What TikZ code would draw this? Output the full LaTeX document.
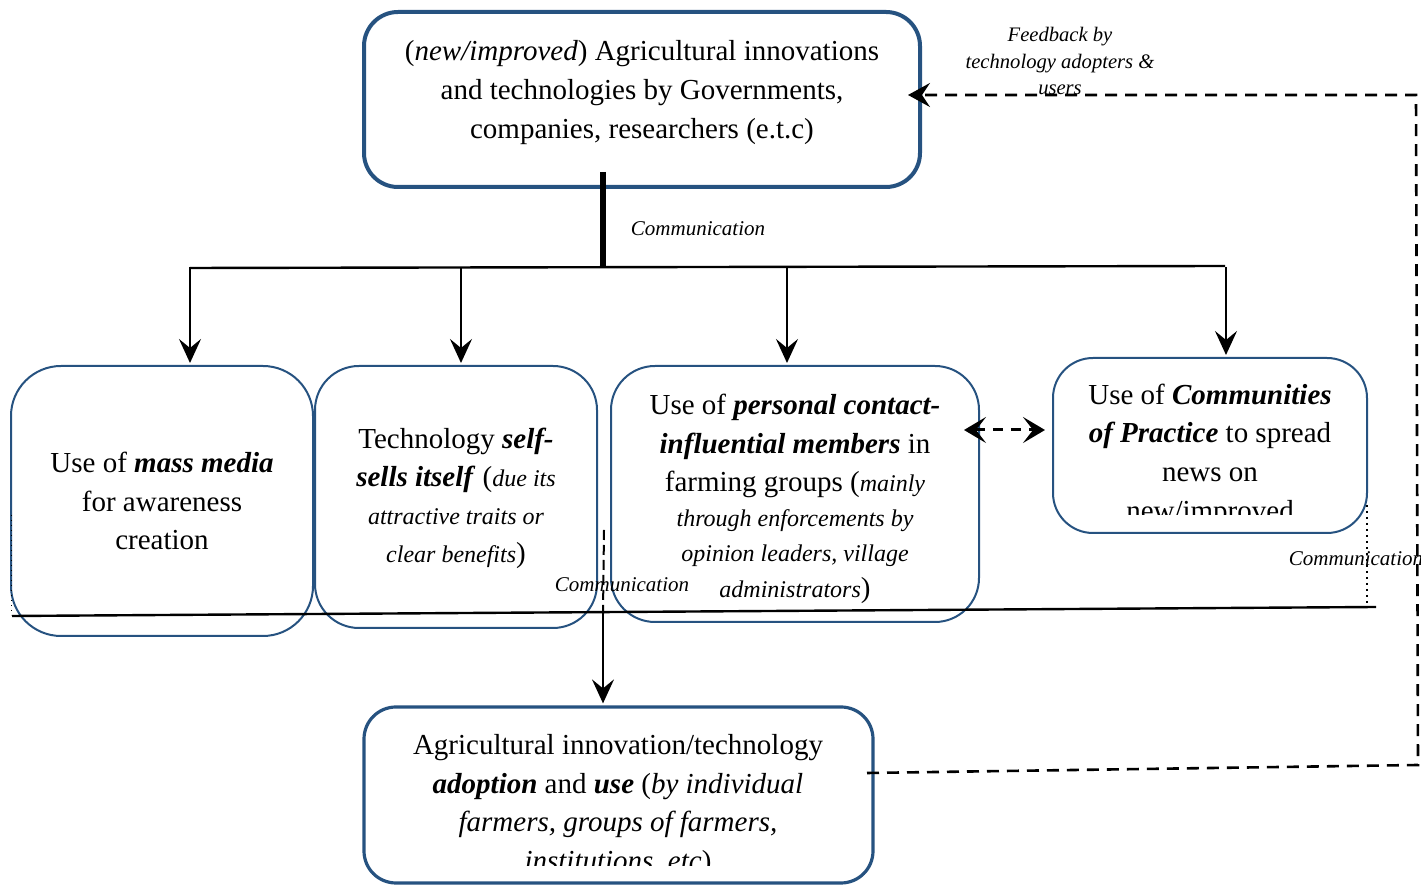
\documentclass[tikz,border=0pt]{standalone}
\usepackage{fontspec}
\setmainfont{Liberation Serif}
\usetikzlibrary{arrows.meta}
\definecolor{boxblue}{RGB}{38,82,128}
\newcommand{\smallit}[1]{{\fontsize{12}{17}\selectfont\itshape #1}}
\newcommand{\bfit}[1]{\textbf{\textit{#1}}}
\tikzset{
  blue box/.style={draw=boxblue, line width=#1, rounded corners=22pt, inner sep=0pt},
  main text/.style={align=center, font=\fontsize{14.5}{19.3}\selectfont},
  comm/.style={font=\fontsize{10.5}{13}\selectfont\itshape}
}

\begin{document}
\begin{tikzpicture}[x=0.5pt, y=-0.5pt,
  arrow down/.style={line width=1pt, shorten >=1pt,
    -{Stealth[length=12pt,width=11pt,inset=4.5pt]}},
  feedback/.style={line width=1.3pt, dash pattern=on 6pt off 4pt}
]
\useasboundingbox (0,0) rectangle (1421,886);

% the boxes
\node[blue box=2pt, rounded corners=17pt, minimum width=278pt, minimum height=87.5pt]
      (source) at (642,99.5) {};
\node[main text] (sourcetext) at (642,92.5)
      {(\textit{new/improved}) Agricultural innovations\\
       and technologies by Governments,\\
       companies, researchers (e.t.c)};

\node[blue box=1pt, rounded corners=25pt, minimum width=151pt, minimum height=135pt, main text]
      (media) at (162,501) {Use of \bfit{mass media}\\ for awareness\\ creation};
\node[blue box=1pt, minimum width=141pt, minimum height=131pt]
      (selfsell) at (456,497) {};
\node[main text] (selfselltext) at (456,498)
      {Technology \bfit{self-}\\
       \bfit{sells itself} (\smallit{due its}\\[-0.5pt]
       \smallit{attractive traits or}\\[-0.5pt]
       \smallit{clear benefits})};
\node[blue box=1pt, minimum width=184pt, minimum height=128pt]
      (personal) at (795,494) {};
\node[main text] (personaltext) at (795,499)
      {Use of \bfit{personal contact-}\\
       \bfit{influential members} in\\
       farming groups (\smallit{mainly}\\[-2pt]
       \smallit{through enforcements by}\\[-2pt]
       \smallit{opinion leaders, village}\\[-1pt]
       \smallit{administrators})};
\node[blue box=1pt, rounded corners=20pt, minimum width=157pt, minimum height=87.5pt]
      (practice) at (1210,445.5) {};
\node[blue box=1.6pt, rounded corners=16pt, minimum width=254.5pt, minimum height=88pt]
      (outcome) at (618.5,795) {};

\begin{scope}
  \clip (1060,360) rectangle (1360,515);
  \node[main text] (practicetext) at (1210,455)
        {Use of \bfit{Communities}\\
         \bfit{of Practice} to spread\\
         news on\\
         new/improved};
\end{scope}
\begin{scope}
  \clip (370,710) rectangle (868,866);
  \node[main text] (outcometext) at (618,805.5)
        {Agricultural innovation/technology\\
         \bfit{adoption} and \bfit{use} (\textit{by individual}\\
         \textit{farmers, groups of farmers,}\\
         \textit{institutions, etc})};
\end{scope}

% communication from the source
\coordinate (stem) at (603,172);
\coordinate (hub) at (603,268);
\coordinate (busleft) at (190,268);
\coordinate (busright) at (1225,266);
\draw[line width=3pt] (stem) -- (hub);
\draw[line width=1.2pt] (busleft) -- (busright);
\node[comm] (commtop) at (698,229) {Communication};
\foreach \x/\nd in {190/media,461/selfsell,787/personal,1226/practice}
  \draw[arrow down] (\x,267) -- (\x,267 |- \nd.north);

\draw[line width=1.5pt, dash pattern=on 5pt off 4pt,
      {Stealth[length=11pt,width=13pt,inset=5pt]}-{Stealth[length=11pt,width=13pt,inset=5pt]}]
      ([xshift=-8pt,yshift=7.75pt]personal.east |- practice.west)
   -- ([xshift=-3.5pt,yshift=7.75pt]practice.west);

% communication to adoption
\coordinate (baseleft) at (12,616);
\coordinate (baseright) at (1376,607);
\draw[line width=1.2pt] (baseleft) -- (baseright);
\coordinate (cdash) at (604,530);
\coordinate (cjoin) at (603,614);
\draw[line width=1pt, dash pattern=on 5pt off 2.5pt] (cdash) -- (cjoin);
\draw[arrow down] (cjoin) -- (cjoin |- outcome.north);
\node[comm] (commmid) at (622,585) {Communication};
\draw[line width=1pt, dotted] (1367,505) -- (1367,605);
\draw[line width=0.5pt, dotted] (11,515) -- (11,615);
\node[comm] (commright) at (1356,559) {Communication};

% the feedback
\coordinate (fbstart) at (867,773);
\coordinate (fbcornera) at (1418,765);
\coordinate (fbcornerb) at (1416,95);
\draw[feedback, -{Stealth[length=11pt,width=12pt,inset=4pt]}]
      (fbstart) -- (fbcornera) -- (fbcornerb)
   -- ([xshift=-7pt,yshift=2.25pt]source.east);
\node[align=center, font=\fontsize{10.3}{13.25}\selectfont\itshape] (fblabel) at (1060,61)
      {Feedback by\\ technology adopters \&\\ users};
\end{tikzpicture}
\end{document}
